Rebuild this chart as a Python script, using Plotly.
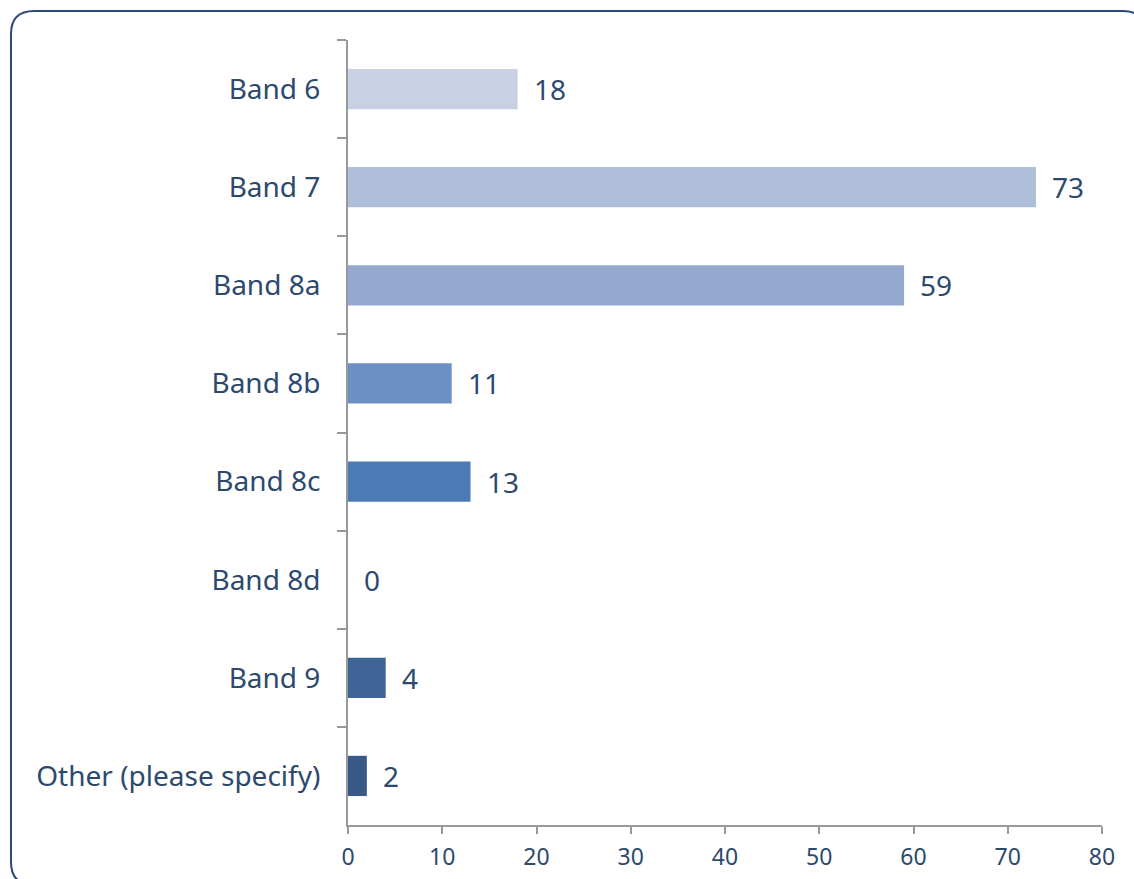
import plotly.graph_objects as go

# Survey responses by pay band
categories = ["Band 6", "Band 7", "Band 8a", "Band 8b", "Band 8c", "Band 8d", "Band 9",
              "Other (please specify)"]
counts = [18, 73, 59, 11, 13, 0, 4, 2]
bar_colors = ["#C8D1E4", "#AFBFDA", "#95A9D0", "#6A90C4", "#4A7BB5", "#4470A8", "#3E6596", "#375A88"]
x_ticks = [0, 10, 20, 30, 40, 50, 60, 70, 80]

TEXT = "#2D4A6E"
AXIS = "#999999"
FONT = "Noto Sans"

W, H = 1134, 879
L, R, T, B = 348, 32, 40, 54

fig = go.Figure(go.Bar(
    x=counts, y=categories, orientation="h",
    marker=dict(color=bar_colors, line=dict(width=0)),
    width=0.41, hoverinfo="skip",
))

# value labels just right of each bar end
for c, v in zip(categories, counts):
    fig.add_annotation(x=v, y=c, text=str(v), showarrow=False, xanchor="left",
                       xshift=14, font=dict(family=FONT, size=28, color=TEXT))

# rounded frame around the whole chart, in pixel space converted to paper units
pw, ph = W - L - R, H - T - B
def px(x):
    return (x - L) / pw
def py(y):
    return 1 - (y - T) / ph

x0, y0, x1, y1, r = 11, 11, 1146, 885, 23
path = (f"M {px(x0 + r)},{py(y0)} L {px(x1 - r)},{py(y0)} "
        f"Q {px(x1)},{py(y0)} {px(x1)},{py(y0 + r)} "
        f"L {px(x1)},{py(y1 - r)} Q {px(x1)},{py(y1)} {px(x1 - r)},{py(y1)} "
        f"L {px(x0 + r)},{py(y1)} Q {px(x0)},{py(y1)} {px(x0)},{py(y1 - r)} "
        f"L {px(x0)},{py(y0 + r)} Q {px(x0)},{py(y0)} {px(x0 + r)},{py(y0)} Z")
fig.add_shape(type="path", path=path, xref="paper", yref="paper",
              line=dict(color="#2B4A7A", width=2), fillcolor="rgba(0,0,0,0)", layer="below")

fig.update_layout(
    width=W, height=H,
    margin=dict(l=L, r=R, t=T, b=B, pad=0),
    paper_bgcolor="white", plot_bgcolor="white",
    showlegend=False,
    font=dict(family=FONT, color=TEXT),
    xaxis=dict(range=[0, 80], tickvals=x_ticks, showgrid=False, zeroline=False,
               showline=True, linecolor=AXIS, linewidth=2,
               ticks="outside", ticklen=7, tickwidth=2, tickcolor=AXIS,
               ticklabelstandoff=3, automargin=False,
               tickfont=dict(family=FONT, size=23, color=TEXT), fixedrange=True),
    yaxis=dict(autorange="reversed", showgrid=False, zeroline=False,
               showline=True, linecolor=AXIS, linewidth=2,
               ticks="outside", ticklen=9, tickwidth=2, tickcolor=AXIS,
               tickson="boundaries", ticklabelstandoff=20, automargin=False,
               tickfont=dict(family=FONT, size=28, color=TEXT), fixedrange=True),
)

fig.write_html("out.html")
